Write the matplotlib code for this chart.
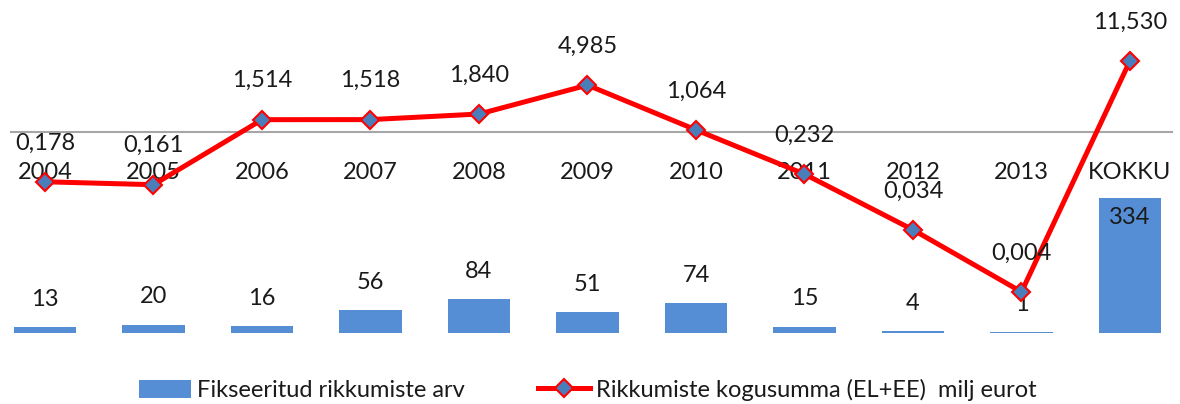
import numpy as np
import matplotlib
matplotlib.use("Agg")
from matplotlib import pyplot as plt
from matplotlib.lines import Line2D
from matplotlib.patches import Patch

plt.rcParams['font.family'] = ['Lato', 'DejaVu Sans']

# data
categories = ['2004', '2005', '2006', '2007', '2008', '2009', '2010', '2011', '2012', '2013', 'KOKKU']
counts = [13, 20, 16, 56, 84, 51, 74, 15, 4, 1, 334]
amounts = [0.178, 0.161, 1.514, 1.518, 1.840, 4.985, 1.064, 0.232, 0.034, 0.004, 11.530]

BAR_COLOR = '#558ED5'
LINE_COLOR = '#FF0000'
MARKER_FACE = '#4A7EBB'
TEXT_COLOR = '#1a1a1a'

fig = plt.figure(figsize=(11.8, 4.04), dpi=100)
ax = fig.add_axes([0, 0, 1, 1])
ax2 = ax.twinx()

x = np.arange(len(categories))

# bars (count of violations)
ax.bar(x, counts, width=0.58, color=BAR_COLOR, zorder=2)
ax.set_xlim(-45 / 108.5, (1180 - 45) / 108.5)
ax.set_ylim(-177.2, 826.8)
for i, c in enumerate(counts):
    if categories[i] == 'KOKKU':
        ax.annotate(str(c), (x[i], c), xytext=(0, -14), textcoords='offset points',
                    ha='center', va='center', fontsize=17, color=TEXT_COLOR)
    else:
        ax.annotate(str(c), (x[i], c), xytext=(0, 20), textcoords='offset points',
                    ha='center', va='center', fontsize=17, color=TEXT_COLOR)

# line (sum in million euros), log scale
ax2.plot(x, amounts, color=LINE_COLOR, lw=3.6, marker='D', ms=9,
         mfc=MARKER_FACE, mec=LINE_COLOR, mew=1.5, zorder=3)
ax2.set_yscale('log')
ax2.set_ylim(8.39e-5, 93.7)
for i, v in enumerate(amounts):
    ax2.annotate(('%.3f' % v).replace('.', ','), (x[i], v), xytext=(0, 28),
                 textcoords='offset points', ha='center', va='center',
                 fontsize=17, color=TEXT_COLOR)

# horizontal category axis crossing at 1
for a in (ax, ax2):
    for s in a.spines.values():
        s.set_visible(False)
    a.set_yticks([])
    a.set_yticks([], minor=True)

ax.tick_params(axis='x', bottom=False, labelbottom=False)
ax2.xaxis.set_visible(True)
ax2.spines['bottom'].set_visible(True)
ax2.spines['bottom'].set_position(('data', 1.0))
ax2.spines['bottom'].set_color('#A6A6A6')
ax2.spines['bottom'].set_linewidth(1.5)
ax2.spines['bottom'].set_bounds(-0.313, 10.387)
ax2.set_xticks(x)
ax2.set_xticklabels(categories, fontsize=17, color=TEXT_COLOR)
ax2.tick_params(axis='x', bottom=True, labelbottom=True, length=0, pad=22)

handles = [Patch(facecolor=BAR_COLOR, edgecolor='none'),
           Line2D([], [], color=LINE_COLOR, lw=3.6, marker='D', ms=9,
                  mfc=MARKER_FACE, mec=LINE_COLOR, mew=1.5)]
labels = ['Fikseeritud rikkumiste arv', 'Rikkumiste kogusumma (EL+EE)  milj eurot']
fig.legend(handles, labels, loc='center', bbox_to_anchor=(0.498, 0.035), ncol=2,
           frameon=False, fontsize=17, handlelength=2.2, handleheight=0.8,
           handletextpad=0.25, columnspacing=3.1, labelcolor=TEXT_COLOR)

fig.savefig('out.png', dpi=100)
